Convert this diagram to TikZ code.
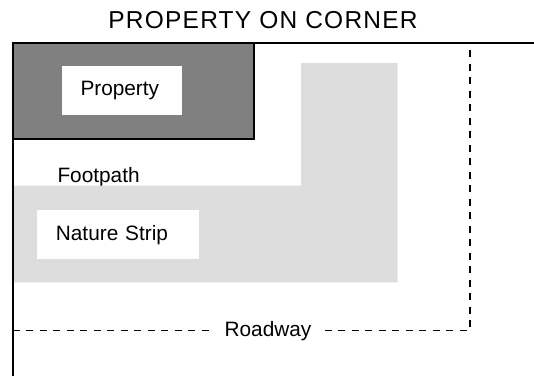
\documentclass[tikz,border=0pt]{standalone}
\usepackage{fontspec}
\setmainfont{Liberation Sans}
\usetikzlibrary{positioning}
\definecolor{lotgrey}{HTML}{808080}
\definecolor{stripgrey}{HTML}{DDDDDD}

\begin{document}
\begin{tikzpicture}[x=1pt,y=-1pt,
    font=\fontsize{20.8}{24}\selectfont,
    whitebox/.style={fill=white, inner xsep=19pt, inner ysep=0pt, minimum height=49pt, align=left, anchor=north west},
    edge/.style={line width=2pt},
    road/.style={line width=1.8pt, dash pattern=on 7pt off 6.5pt}]
  \useasboundingbox (0,0) rectangle (534,376);
  \node[anchor=base, font=\fontsize{24.5}{28}\selectfont\addfontfeature{LetterSpace=5}] (Title) at (263,28.3) {PROPERTY ON CORNER};

  % the lot on the corner
  \draw[edge, fill=lotgrey] (12.7,42.7) rectangle (253.7,138.7);
  \node[whitebox, text width=82.2pt] (Property) at (61.3,66) {Property};

  \node[anchor=base west, inner sep=0pt] (Footpath) at (57.3,182.3) {Footpath};
  \fill[stripgrey] (12.7,185.7) -| (301,63) -| (397.7,282.3) -| cycle;
  \node[whitebox, text width=124.3pt] (Strip) at (36.7,210) {Nature Strip};

  % kerb lines
  \draw[edge] (12.7,376) -- (12.7,42.7) -- (534,42.7);

  % roadway
  \node[anchor=base, inner xsep=13pt] (Roadway) at (268,336.7) {Roadway};
  \coordinate (RoadStart) at (12.7,330.5);
  \coordinate (RoadBend) at (469.7,330.5);
  \coordinate (RoadEnd) at (469.7,42.7);
  \draw[road] (RoadStart) -- (Roadway.west |- RoadStart);
  \draw[road] (Roadway.east |- RoadBend) -- (RoadBend) -- (RoadEnd);
\end{tikzpicture}
\end{document}
